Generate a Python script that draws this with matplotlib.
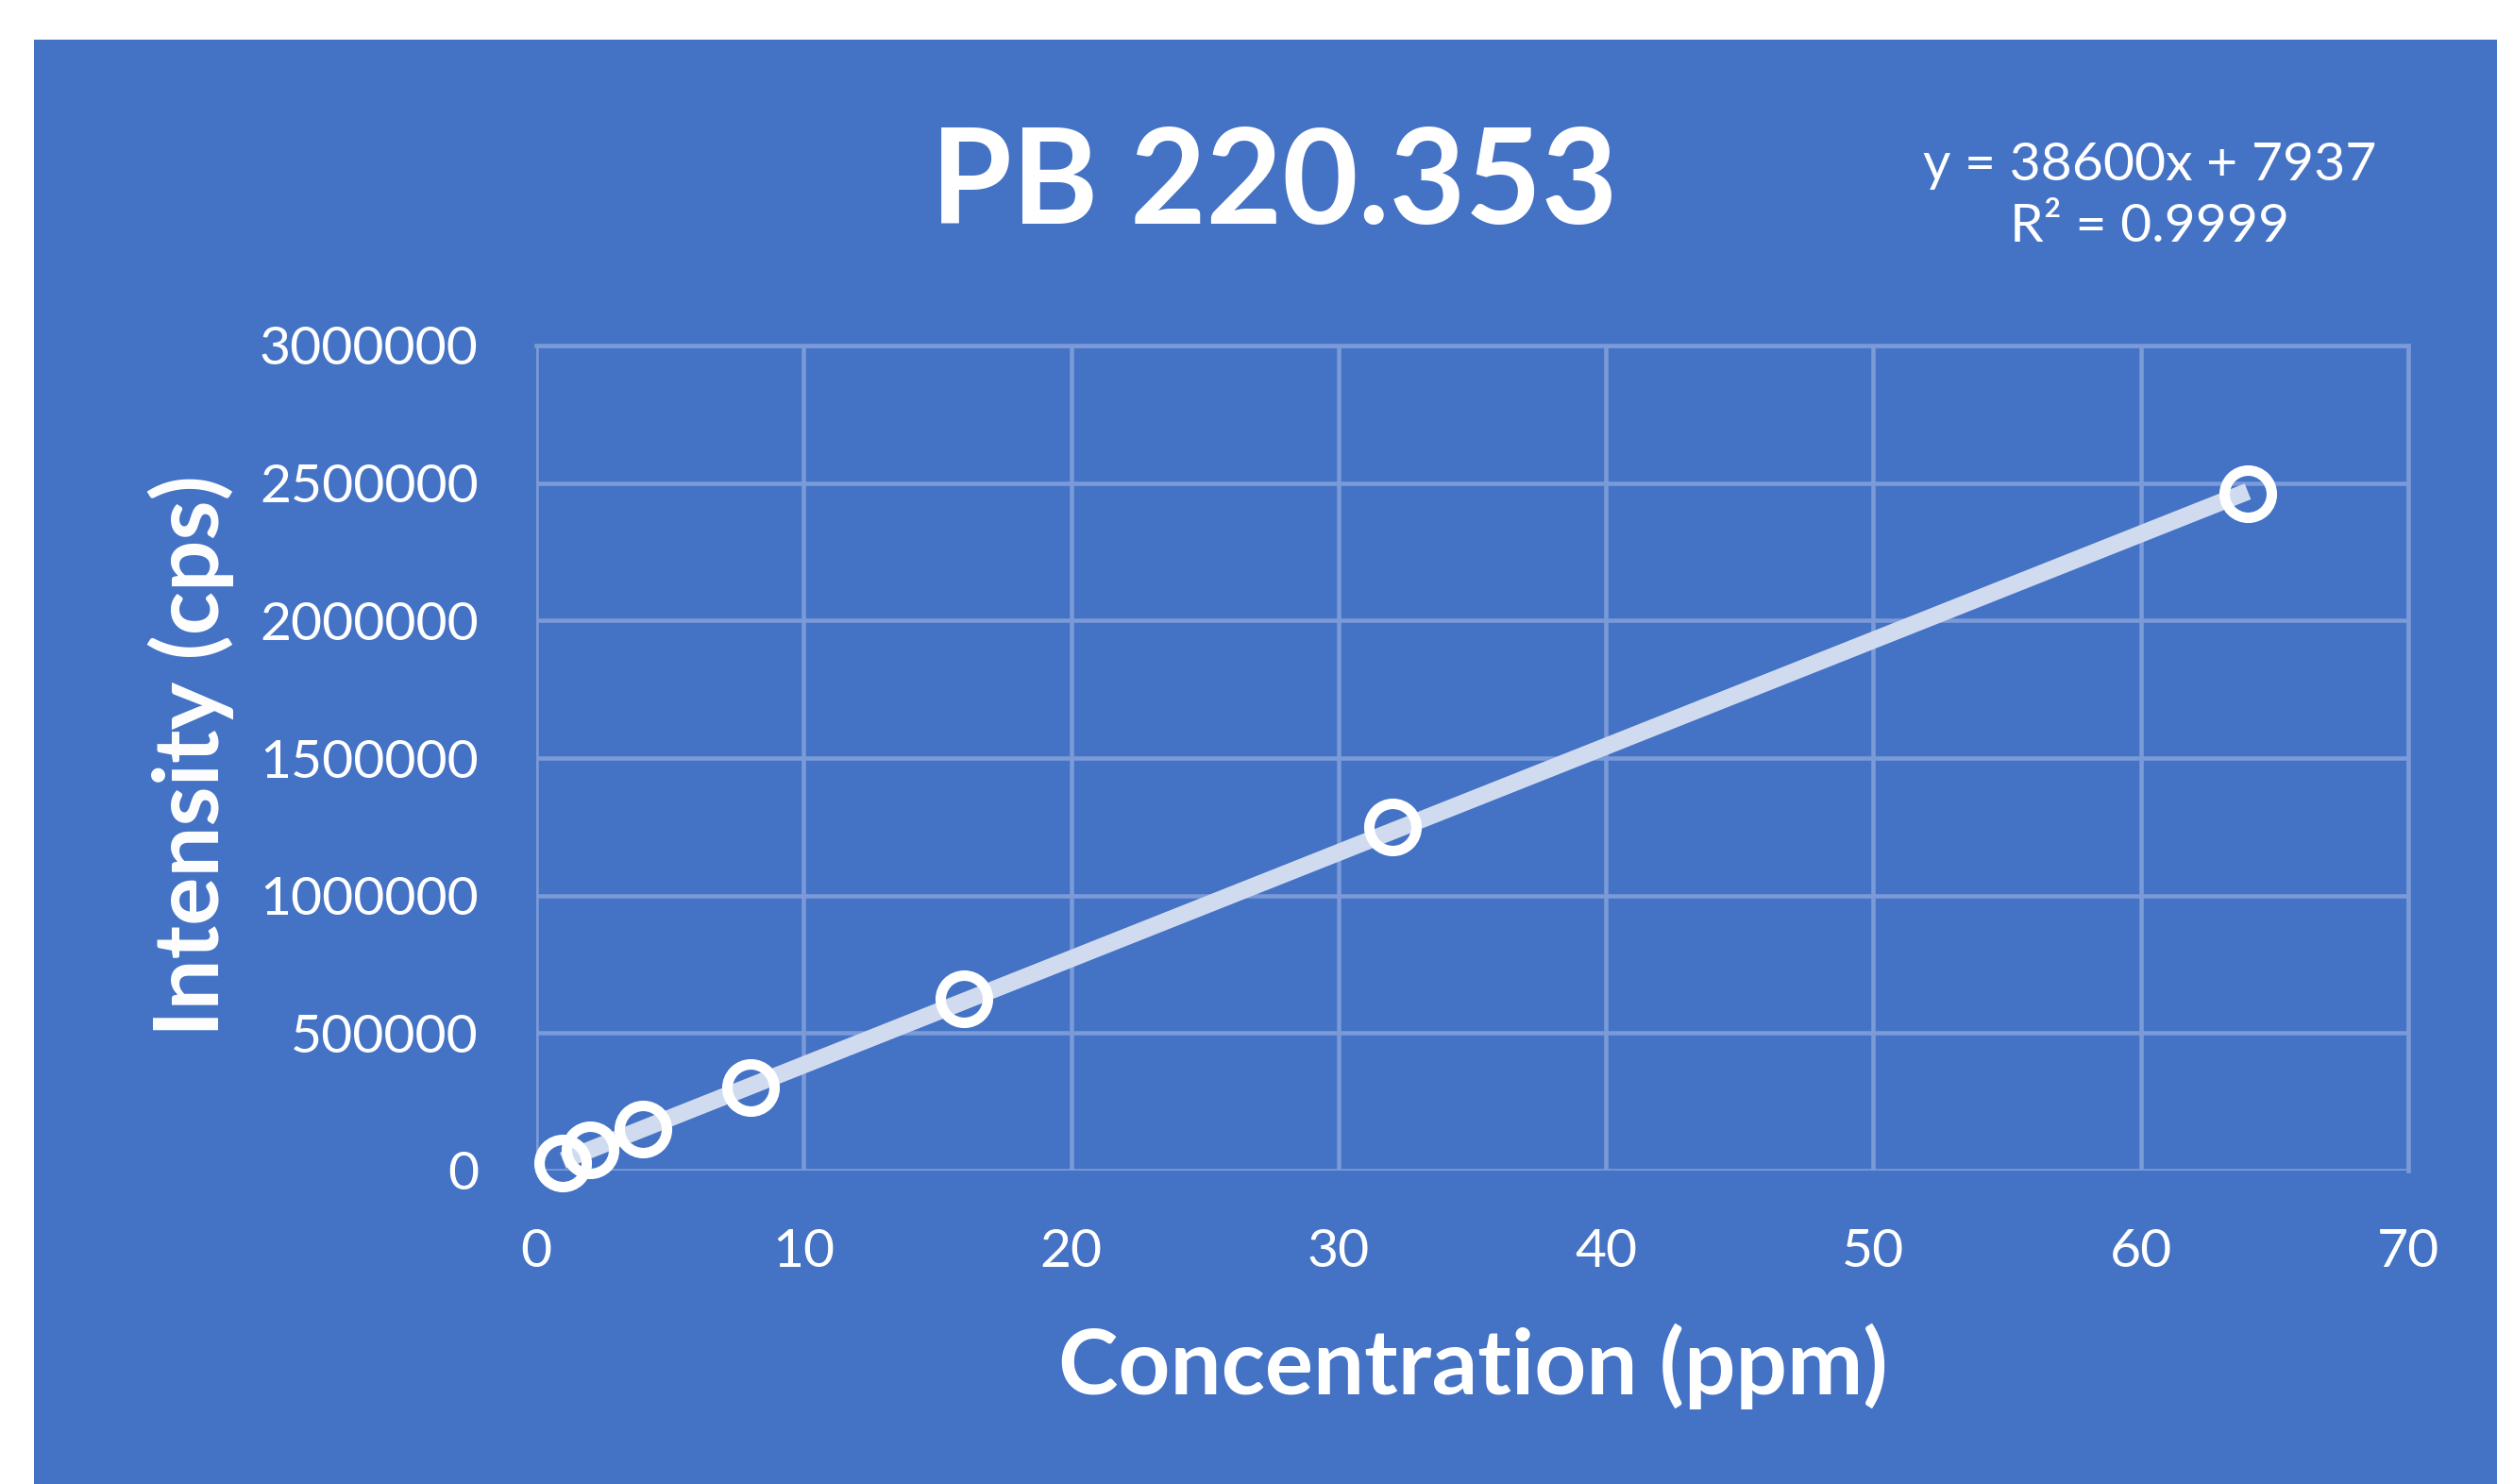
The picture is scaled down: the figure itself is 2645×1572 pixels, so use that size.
import matplotlib.pyplot as plt
from matplotlib.patches import Rectangle
import numpy as np

# calibration data
conc = [1, 2, 4, 8, 16, 32, 64]
intensity = [29000, 75000, 150000, 301000, 625000, 1250000, 2460000]

x_ticks = [0, 10, 20, 30, 40, 50, 60, 70]
y_ticks = [0, 500000, 1000000, 1500000, 2000000, 2500000, 3000000]

title = "PB 220.353"
eq_text = "y = 38600x + 7937\nR² = 0.9999"

bg = "#4472C4"
grid_c = "#7A9AD8"
line_c = "#D0DBF0"

plt.rcParams['font.family'] = ['Lato', 'DejaVu Sans']

W, H = 2645, 1572
fig = plt.figure(figsize=(W / 100, H / 100), dpi=100, facecolor="white")
fig.patches.append(Rectangle((36 / W, 0), 1 - 36 / W, 1 - 42 / H,
                             transform=fig.transFigure, facecolor=bg,
                             edgecolor="none", zorder=-5))

ax = fig.add_axes([568 / W, 1 - 1240 / H, (2551 - 568) / W, (1240 - 366) / H])
ax.set_zorder(2)
ax.set_facecolor("none")
ax.set_xlim(0, 70)
ax.set_ylim(0, 3000000)
ax.set_xticks(x_ticks)
ax.set_yticks(y_ticks)
ax.set_xticklabels([str(v) for v in x_ticks])
ax.set_yticklabels([str(v) for v in y_ticks])
ax.grid(True, color=grid_c, linewidth=3.3, zorder=1)
ax.set_axisbelow(True)
for s in ax.spines.values():
    s.set_visible(False)
# right and top border gridlines
ax.axvline(70, color=grid_c, linewidth=3.3, zorder=1, clip_on=False)
ax.axhline(3000000, color=grid_c, linewidth=3.3, zorder=1, clip_on=False)
ax.tick_params(length=0, colors="white", labelsize=41)
ax.tick_params(axis="x", pad=44)
ax.tick_params(axis="y", pad=44)

# linear trendline over the data range
m, b = np.polyfit(conc, intensity, 1)
xs = np.array([min(conc), max(conc)])
ax.plot(xs, m * xs + b, color=line_c, linewidth=13, solid_capstyle="butt", zorder=2)
ax.plot(conc, intensity, linestyle="none", marker="o", markersize=36,
        markerfacecolor="none", markeredgecolor="white", markeredgewidth=8,
        zorder=3, clip_on=False)

fig.text(1350 / W, 1 - 197 / H, title, ha="center", va="center",
         fontsize=100, fontweight="bold", color="white")
fig.text(2277 / W, 1 - 208 / H, eq_text, ha="center", va="center",
         fontsize=41, color="white", linespacing=1.35)
fig.text(1560 / W, 1 - 1447 / H, "Concentration (ppm)", ha="center", va="center",
         fontsize=69, fontweight="bold", color="white")
fig.text(202 / W, 1 - 801 / H, "Intensity (cps)", ha="center", va="center",
         rotation=90, fontsize=69, fontweight="bold", color="white")

fig.savefig("out.png", dpi=100, facecolor="white")
